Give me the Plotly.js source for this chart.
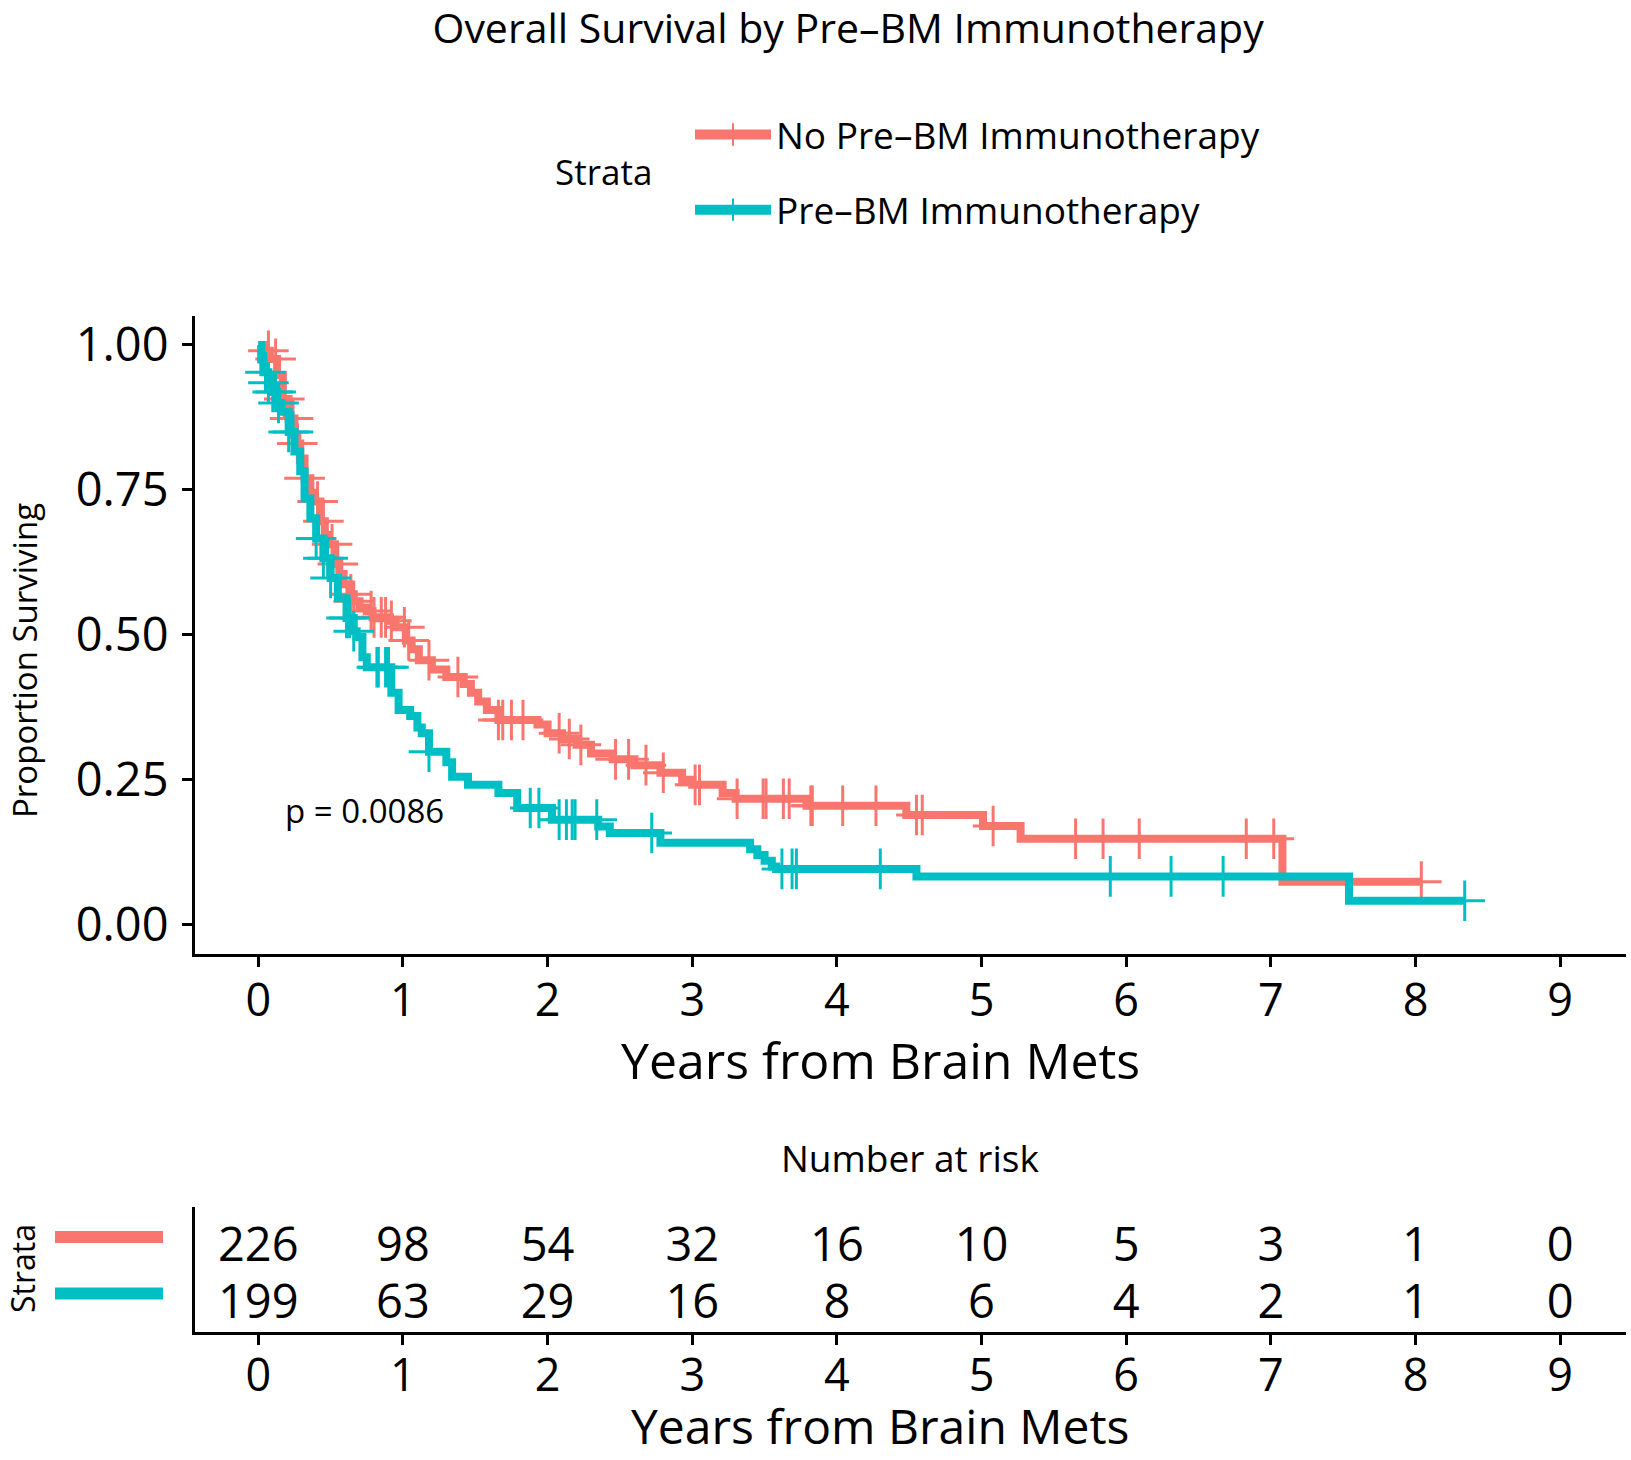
<!DOCTYPE html>
<html><head><meta charset="utf-8">
<script src="https://cdn.plot.ly/plotly-3.0.1.min.js"></script>
<style>html,body{margin:0;padding:0;background:#fff}#chart{width:1631px;height:1460px}</style>
</head><body><div id="chart"></div>
<script>
// ---------------- data ----------------
const strataNames = ['No Pre\u2013BM Immunotherapy', 'Pre\u2013BM Immunotherapy'];
const strataColors = ['#F8766D', '#00BFC4'];

// No Pre-BM Immunotherapy: KM step times (years) and survival after each step
const noTime = [0, 0.05, 0.08, 0.13, 0.17, 0.21, 0.25, 0.27, 0.29, 0.32, 0.36, 0.38, 0.43, 0.46, 0.48, 0.53, 0.56, 0.59, 0.63, 0.66, 0.70, 0.75, 0.79, 0.91, 0.95, 1.02, 1.06, 1.11, 1.20, 1.30, 1.42, 1.47, 1.52, 1.58, 1.66, 1.93, 2.00, 2.10, 2.20, 2.30, 2.45, 2.60, 2.78, 2.93, 3.00, 3.21, 3.30, 3.79, 4.48, 5.01, 5.27, 7.08];
const noSurv = [1.000, 0.990, 0.976, 0.948, 0.907, 0.873, 0.845, 0.830, 0.804, 0.770, 0.745, 0.730, 0.696, 0.672, 0.656, 0.622, 0.605, 0.587, 0.570, 0.558, 0.547, 0.541, 0.530, 0.524, 0.513, 0.490, 0.475, 0.456, 0.440, 0.427, 0.415, 0.400, 0.385, 0.370, 0.353, 0.345, 0.330, 0.320, 0.310, 0.295, 0.285, 0.275, 0.262, 0.250, 0.241, 0.227, 0.217, 0.205, 0.189, 0.170, 0.148, 0.074];
const noCensor = [0.07, 0.12, 0.18, 0.22, 0.24, 0.27, 0.32, 0.41, 0.45, 0.51, 0.55, 0.64, 0.66, 0.78, 0.80, 0.85, 0.88, 0.92, 1.01, 1.04, 1.18, 1.38, 1.66, 1.69, 1.75, 1.83, 2.08, 2.15, 2.23, 2.47, 2.56, 2.68, 2.80, 3.02, 3.05, 3.31, 3.49, 3.51, 3.63, 3.67, 3.82, 3.83, 4.04, 4.27, 4.55, 4.59, 5.08, 5.65, 5.84, 6.09, 6.83, 7.02, 8.04];

// Pre-BM Immunotherapy
const preTime = [0, 0.02, 0.035, 0.07, 0.10, 0.13, 0.16, 0.21, 0.25, 0.29, 0.32, 0.36, 0.40, 0.45, 0.50, 0.55, 0.61, 0.66, 0.68, 0.72, 0.75, 0.92, 0.97, 1.05, 1.10, 1.13, 1.18, 1.30, 1.34, 1.45, 1.66, 1.79, 2.03, 2.35, 2.43, 2.78, 3.40, 3.45, 3.50, 3.55, 3.58, 4.55, 7.54];
const preSurv = [1.000, 0.975, 0.953, 0.935, 0.919, 0.900, 0.885, 0.850, 0.816, 0.782, 0.735, 0.701, 0.666, 0.632, 0.598, 0.563, 0.529, 0.506, 0.496, 0.461, 0.444, 0.400, 0.370, 0.360, 0.340, 0.330, 0.298, 0.280, 0.255, 0.241, 0.227, 0.201, 0.181, 0.169, 0.158, 0.141, 0.130, 0.120, 0.110, 0.100, 0.096, 0.083, 0.041];
const preCensor = [0.05, 0.07, 0.10, 0.12, 0.14, 0.21, 0.24, 0.40, 0.45, 0.48, 0.50, 0.61, 0.63, 0.66, 0.82, 0.83, 0.88, 0.90, 1.18, 1.88, 1.94, 2.08, 2.13, 2.17, 2.19, 2.34, 2.72, 3.62, 3.69, 3.72, 4.30, 5.89, 6.31, 6.67, 8.34];

// Number at risk table
const riskTimes = [0, 1, 2, 3, 4, 5, 6, 7, 8, 9];
const riskNo = [226, 98, 54, 32, 16, 10, 5, 3, 1, 0];
const riskPre = [199, 63, 29, 16, 8, 6, 4, 2, 1, 0];
const riskRows = [2, 1];

const xTickVals = [0, 1, 2, 3, 4, 5, 6, 7, 8, 9];
const yTickVals = [0, 0.25, 0.5, 0.75, 1];
const yTickText = ['0.00', '0.25', '0.50', '0.75', '1.00'];
const pValueText = 'p = 0.0086';

// ---------------- build ----------------
const FONT = 'Open Sans, Noto Sans, sans-serif';
const W = 1631, H = 1460, L = 195, R = 5;
const PW = W - L - R;
const px = v => (v - L) / PW;      // page x (px) -> paper x
const py = v => 1 - v / H;         // page y (px) -> paper y

function survAt(times, surv, t) {
  let s = surv[0];
  for (let i = 0; i < times.length; i++) { if (times[i] <= t) s = surv[i]; }
  return s;
}
const groups = [
  {time: noTime, surv: noSurv, cens: noCensor, risk: riskNo},
  {time: preTime, surv: preSurv, cens: preCensor, risk: riskPre}
];
const traces = [];
groups.forEach((g, k) => {
  const endT = Math.max(g.time[g.time.length - 1], g.cens[g.cens.length - 1]);
  const lx = g.time.concat([endT]);
  const ly = g.surv.concat([g.surv[g.surv.length - 1]]);
  traces.push({x: lx, y: ly, type: 'scatter', mode: 'lines', line: {shape: 'hv', color: strataColors[k], width: 8},
    xaxis: 'x', yaxis: 'y', showlegend: false, legendgroup: 'g' + k, hoverinfo: 'skip'});
  traces.push({x: g.cens, y: g.cens.map(t => survAt(g.time, g.surv, t)), type: 'scatter', mode: 'markers',
    marker: {symbol: 'cross-thin', size: 29, color: strataColors[k], line: {color: strataColors[k], width: 3}},
    xaxis: 'x', yaxis: 'y', showlegend: false, legendgroup: 'g' + k, hoverinfo: 'skip'});
  traces.push({x: [null], y: [null], type: 'scatter', mode: 'lines+markers', name: strataNames[k],
    line: {color: strataColors[k], width: 10},
    marker: {symbol: 'cross-thin', size: 16, color: strataColors[k], line: {color: strataColors[k], width: 2}},
    xaxis: 'x', yaxis: 'y', showlegend: true, legendgroup: 'g' + k});
  traces.push({x: riskTimes, y: riskTimes.map(() => riskRows[k]), text: g.risk.map(String), type: 'scatter', mode: 'text',
    textposition: 'middle center', textfont: {family: FONT, size: 47, color: '#000'},
    xaxis: 'x2', yaxis: 'y2', showlegend: false, hoverinfo: 'skip', cliponaxis: false});
});

const axisCommon = {showgrid: false, zeroline: false, showline: true, linecolor: '#000', linewidth: 3,
  ticks: 'outside', ticklen: 10, tickwidth: 3, tickcolor: '#000', tickfont: {family: FONT, size: 45, color: '#000'}};
const xRange = [-(258.3 - L) / 144.7, 9.455];

const layout = {
  width: W, height: H,
  margin: {l: L, r: R, t: 0, b: 0},
  paper_bgcolor: '#fff', plot_bgcolor: '#fff',
  font: {family: FONT, color: '#000'},
  title: {text: 'Overall Survival by Pre\u2013BM Immunotherapy', font: {family: FONT, size: 41, color: '#000'},
    xref: 'container', x: 0.52, xanchor: 'center', yref: 'container', y: 1 - 29 / H, yanchor: 'middle'},
  xaxis: Object.assign({}, axisCommon, {domain: [0, 1], range: xRange, anchor: 'y', tickvals: xTickVals,
    ticklabelstandoff: -5}),
  yaxis: Object.assign({}, axisCommon, {domain: [py(953.5), py(316)], range: [-0.05, 1.05], anchor: 'x',
    tickvals: yTickVals, ticktext: yTickText, ticklabelstandoff: 4, tickfont: {family: FONT, size: 47, color: '#000'}}),
  xaxis2: Object.assign({}, axisCommon, {domain: [0, 1], range: xRange, anchor: 'y2', tickvals: xTickVals,
    ticklabelstandoff: -8}),
  yaxis2: {domain: [py(1332), py(1207)], range: [0.54, 2.752], anchor: 'x2', showgrid: false, zeroline: false,
    showline: true, linecolor: '#000', linewidth: 3, ticks: '', showticklabels: false, fixedrange: true},
  showlegend: true,
  legend: {x: px(690), xanchor: 'left', y: py(104), yanchor: 'top', orientation: 'v',
    traceorder: 'grouped', tracegroupgap: 24, itemwidth: 76, bgcolor: 'rgba(0,0,0,0)',
    font: {family: FONT, size: 37, color: '#000'}},
  annotations: [
    {text: 'Strata', xref: 'paper', yref: 'paper', x: px(603.5), y: py(172), xanchor: 'center', yanchor: 'middle',
      showarrow: false, font: {family: FONT, size: 35, color: '#000'}},
    {text: 'Proportion Surviving', xref: 'paper', yref: 'paper', x: px(24), y: py(661), textangle: -90,
      xanchor: 'center', yanchor: 'middle', showarrow: false, font: {family: FONT, size: 33, color: '#000'}},
    {text: pValueText, xref: 'x', yref: 'y', x: 0.734, y: 0.196, xanchor: 'center', yanchor: 'middle',
      showarrow: false, font: {family: FONT, size: 33, color: '#000'}},
    {text: 'Years from Brain Mets', xref: 'paper', yref: 'paper', x: px(880), y: py(1060), xanchor: 'center', yanchor: 'middle',
      showarrow: false, font: {family: FONT, size: 50, color: '#000'}},
    {text: 'Number at risk', xref: 'paper', yref: 'paper', x: px(910), y: py(1157), xanchor: 'center', yanchor: 'middle',
      showarrow: false, font: {family: FONT, size: 37, color: '#000'}},
    {text: 'Strata', xref: 'paper', yref: 'paper', x: px(22), y: py(1269), textangle: -90,
      xanchor: 'center', yanchor: 'middle', showarrow: false, font: {family: FONT, size: 32, color: '#000'}},
    {text: 'Years from Brain Mets', xref: 'paper', yref: 'paper', x: px(880), y: 0, xanchor: 'center', yanchor: 'bottom',
      showarrow: false, font: {family: FONT, size: 48, color: '#000'}}
  ],
  shapes: riskRows.map((r, k) => ({type: 'line', xref: 'paper', yref: 'y2', x0: px(55), x1: px(163),
    y0: r + 0.22, y1: r + 0.22, line: {color: strataColors[k], width: 12}}))
};

Plotly.newPlot('chart', traces, layout, {staticPlot: true, displayModeBar: false});
</script>
</body></html>
